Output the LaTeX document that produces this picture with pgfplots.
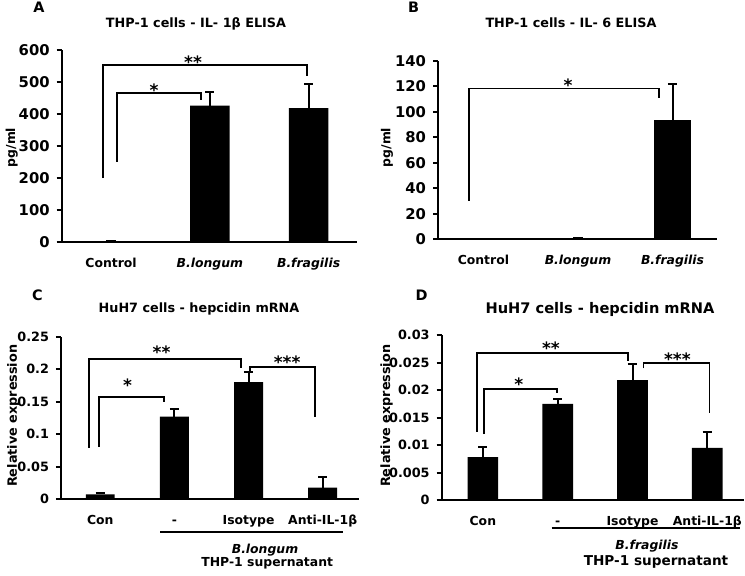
\documentclass[border=0pt]{standalone}
\usepackage{pgfplots}
\pgfplotsset{compat=1.18}
\usepackage{fontspec}
\setmainfont{DejaVu Sans}

\newcommand{\fT}{\fontsize{6.4}{7.5}\selectfont\bfseries}
\newcommand{\fS}{\fontsize{8.5}{9}\selectfont\bfseries}
\newcommand{\fL}{\fontsize{7.2}{8}\selectfont\bfseries}
\newcommand{\fYA}{\fontsize{7.4}{8.5}\selectfont\bfseries}
\newcommand{\fYC}{\fontsize{6.4}{7.5}\selectfont\bfseries}
\newcommand{\fX}{\fontsize{6.2}{7.5}\selectfont\bfseries}

\tikzset{brk/.style={line width=0.9pt, black},
  star/.style={font=\fS, yshift=-1.9pt}}
\pgfplotsset{
  panel/.style={
    scale only axis, anchor=south west, clip=false,
    axis lines*=left,
    axis line style={line width=1pt, black},
    tick align=outside, major tick length=2.5pt,
    ytick style={line width=1pt, black},
    xtick style={draw=none},
    ymin=0, scaled y ticks=false,
    /pgf/number format/assume math mode=true,
    xticklabel style={font=\fX, yshift=-2pt, text height=4.8pt, text depth=1.3pt},
  },
  bars/.style={
    ybar, bar width=#1, fill=black, draw=none,
    error bars/.cd, y dir=plus, y explicit,
    error bar style={line width=1pt, black},
    error mark options={line width=1pt, black, mark size=2.3pt, rotate=90},
  },
}

\begin{document}
\begin{tikzpicture}
\useasboundingbox (0,0) rectangle (372.5pt,287.5pt);

% ---------------- Panel A ----------------
\begin{axis}[panel, at={(30.85pt,166.65pt)}, width=147.65pt, height=95.85pt,
  xmin=-0.5, xmax=2.49, ymax=600, ytick={0,100,...,600},
  yticklabel style={font=\fYA},
  xtick={0,1,2}, xticklabels={Control,\textit{B.longum},\textit{B.fragilis}}]
\addplot[bars=0.4] table[x=x, y=y, y error=e] {
x y e
0 2 1
1 426 42
2 418 77
};
\draw[brk] (axis cs:-0.084,199) |- (axis cs:1.98,553) -- (axis cs:1.98,519);
\draw[brk] (axis cs:0.058,251) |- (axis cs:0.913,466) -- (axis cs:0.913,444);
\node[star] at (axis cs:0.83,575) {**};
\node[star] at (axis cs:0.436,487) {*};
\end{axis}

% ---------------- Panel B ----------------
\begin{axis}[panel, at={(219pt,167.85pt)}, width=139.5pt, height=89.15pt,
  xmin=-0.48, xmax=2.47, ymax=140, ytick={0,20,...,140},
  yticklabel style={font=\fYA},
  xtick={0,1,2}, xticklabels={Control,\textit{B.longum},\textit{B.fragilis}}]
\addplot[bars=0.39] table[x=x, y=y, y error=e] {
x y e
0 0 0
1 0.7 0
2 93.6 28.5
};
\draw[brk] (axis cs:-0.15,30.1) |- (axis cs:1.854,118.4) -- (axis cs:1.854,110.6);
\node[star] at (axis cs:0.894,123.7) {*};
\end{axis}

% ---------------- Panel C ----------------
\begin{axis}[panel, at={(30.5pt,37.85pt)}, width=149pt, height=81.3pt,
  xmin=-0.53, xmax=3.49, ymax=0.25,
  ytick={0,0.05,0.1,0.15,0.2,0.25}, yticklabels={0,0.05,0.1,0.15,0.2,0.25},
  yticklabel style={font=\fYC},
  xtick={0,1,2,3}, xticklabels={Con,-,Isotype,Anti-IL-1β}]
\addplot[bars=0.39] table[x=x, y=y, y error=e] {
x y e
0 0.0077 0.0020
1 0.127 0.0123
2 0.180 0.0165
3 0.0179 0.0159
};
\draw[brk] (axis cs:-0.155,0.0794) |- (axis cs:1.896,0.2160) -- (axis cs:1.896,0.2024);
\draw[brk] (axis cs:-0.016,0.081) |- (axis cs:0.857,0.1578) -- (axis cs:0.857,0.150);
\draw[brk] (axis cs:2.018,0.196) |- (axis cs:2.895,0.2029) -- (axis cs:2.895,0.127);
\node[star] at (axis cs:0.826,0.232) {**};
\node[star] at (axis cs:0.367,0.181) {*};
\node[star] at (axis cs:2.52,0.2168) {***};
\end{axis}

% ---------------- Panel D ----------------
\begin{axis}[panel, at={(220.85pt,37.5pt)}, width=151.15pt, height=82.5pt,
  xmin=-0.55, xmax=3.49, ymax=0.03,
  ytick={0,0.005,0.01,0.015,0.02,0.025,0.03},
  yticklabels={0,0.005,0.01,0.015,0.02,0.025,0.03},
  yticklabel style={font=\fYC},
  xtick={0,1,2,3}, xticklabels={Con,-,Isotype,Anti-IL-1β}]
\addplot[bars=0.41] table[x=x, y=y, y error=e] {
x y e
0 0.0078 0.0018
1 0.0175 0.0008
2 0.0218 0.0029
3 0.0095 0.0028
};
\draw[brk] (axis cs:-0.08,0.01242) |- (axis cs:1.94,0.02667) -- (axis cs:1.94,0.02533);
\draw[brk] (axis cs:0.013,0.0120) |- (axis cs:0.987,0.02018) -- (axis cs:0.987,0.0195);
\draw[brk] (axis cs:2.147,0.02394) |- (axis cs:3.03,0.02485) -- (axis cs:3.03,0.01576);
\node[star] at (axis cs:0.91,0.02836) {**};
\node[star] at (axis cs:0.48,0.0218) {*};
\node[star] at (axis cs:2.6,0.02636) {***};
\end{axis}

% ---------------- Texts ----------------
\node[font=\fL] at (19.5pt,283.75pt) {A};
\node[font=\fL] at (206.8pt,284pt) {B};
\node[font=\fL] at (18.7pt,139.9pt) {C};
\node[font=\fL] at (210.8pt,139.9pt) {D};

\node[font=\fT] at (98pt,275.5pt) {THP-1 cells - IL- 1β ELISA};
\node[font=\fT] at (285.5pt,276.2pt) {THP-1 cells - IL- 6 ELISA};
\node[font=\fT] at (99.5pt,133pt) {HuH7 cells - hepcidin mRNA};
\node[font=\fontsize{7.3}{8.5}\selectfont\bfseries] at (300pt,133pt) {HuH7 cells - hepcidin mRNA};

\node[font=\fX, rotate=90] at (5.85pt,213.75pt) {pg/ml};
\node[font=\fX, rotate=90] at (193.5pt,213.75pt) {pg/ml};
\node[font=\fYC, rotate=90] at (6.67pt,79.6pt) {Relative expression};
\node[font=\fYC, rotate=90] at (193.3pt,79.6pt) {Relative expression};

\draw[line width=0.9pt] (80pt,21.35pt) -- (171.65pt,21.35pt);
\node[font=\fX] at (132.5pt,12.5pt) {\textit{B.longum}};
\node[font=\fX] at (133.6pt,5.85pt) {THP-1 supernatant};
\draw[line width=0.9pt] (275.85pt,23.35pt) -- (370pt,23.35pt);
\node[font=\fX] at (323.5pt,14.5pt) {\textit{B.fragilis}};
\node[font=\fontsize{6.8}{8}\selectfont\bfseries] at (328pt,6.65pt) {THP-1 supernatant};
\end{tikzpicture}
\end{document}
